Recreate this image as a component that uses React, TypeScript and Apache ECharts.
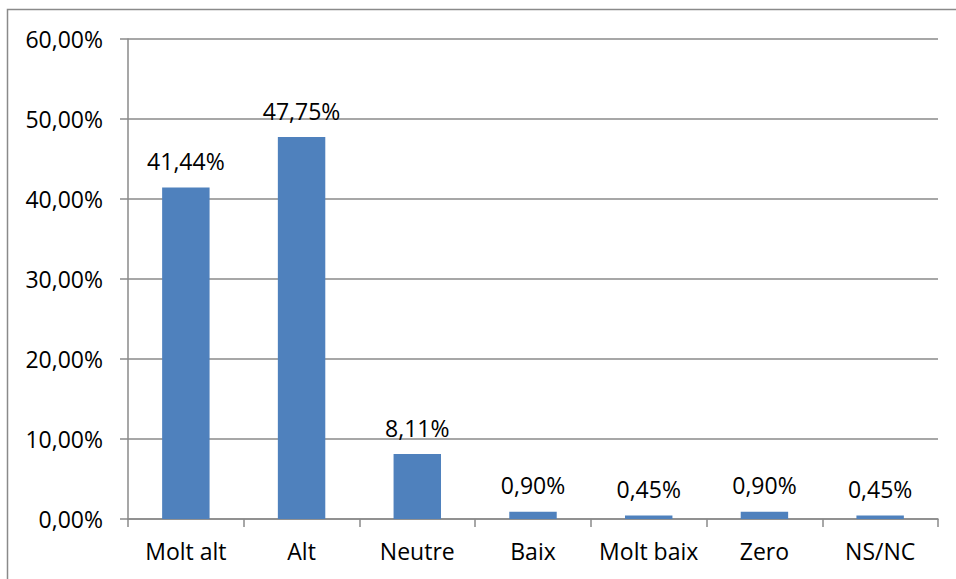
import React, { useEffect, useRef } from "react";
import * as echarts from "echarts";

const categories = ["Molt alt", "Alt", "Neutre", "Baix", "Molt baix", "Zero", "NS/NC"];
const values = [41.44, 47.75, 8.11, 0.9, 0.45, 0.9, 0.45];
const yMin = 0;
const yMax = 60;
const yInterval = 10;

const fmt = (v: number) => v.toFixed(2).replace(".", ",") + "%";
const FONT = "'Open Sans', 'Noto Sans', sans-serif";
const FS = 23;

export default function App() {
  const ref = useRef<HTMLDivElement>(null);
  useEffect(() => {
    document.body.style.margin = "0";
    const chart = echarts.init(ref.current!, null, { renderer: "svg" });
    chart.setOption({
      animation: false,
      backgroundColor: "#ffffff",
      textStyle: { fontFamily: FONT },
      graphic: [
        {
          type: "rect",
          shape: { x: 7.5, y: 9.5, width: 1000, height: 700 },
          style: { fill: "none", stroke: "#8a8a8a", lineWidth: 1.5 },
          silent: true,
        },
      ],
      grid: { left: 128, right: 18, top: 39, bottom: 60 },
      xAxis: {
        type: "category",
        data: categories,
        axisLine: { lineStyle: { color: "#8a8a8a", width: 1.5 } },
        axisTick: { show: true, alignWithLabel: false, interval: 0, length: 8, lineStyle: { color: "#8a8a8a", width: 1.5 } },
        axisLabel: { color: "#000", fontSize: FS, fontFamily: FONT, margin: 20, interval: 0 },
      },
      yAxis: {
        type: "value",
        min: yMin,
        max: yMax,
        interval: yInterval,
        axisLine: { show: true, lineStyle: { color: "#8a8a8a", width: 1.5 } },
        axisTick: { show: true, length: 8, lineStyle: { color: "#8a8a8a", width: 1.5 } },
        splitLine: { show: true, lineStyle: { color: "#8a8a8a", width: 1.5 } },
        axisLabel: { color: "#000", fontSize: FS, fontFamily: FONT, margin: 25, formatter: (v: number) => fmt(v) },
      },
      series: [
        {
          type: "bar",
          data: values,
          barWidth: "41%",
          itemStyle: { color: "#4f81bd" },
          label: {
            show: true,
            position: "top",
            distance: 15,
            color: "#000",
            fontSize: FS,
            fontFamily: FONT,
            formatter: (p: any) => fmt(p.value),
          },
        },
      ],
    });
    return () => chart.dispose();
  }, []);
  return <div ref={ref} style={{ width: 956, height: 579 }} />;
}
